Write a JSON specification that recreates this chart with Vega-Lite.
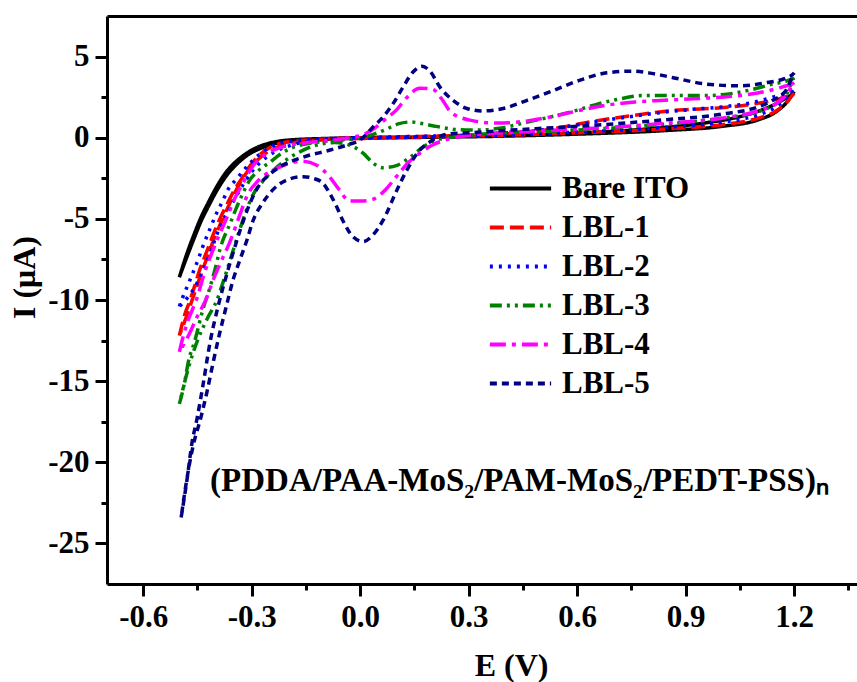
{
  "$schema": "https://vega.github.io/schema/vega-lite/v6.json",
  "autosize": {"type": "none"},
  "padding": {"left": 107, "top": 16, "right": 0, "bottom": 98},
  "width": 750,
  "height": 568,
  "background": "white",
  "config": {
    "view": {"stroke": null},
    "font": "Liberation Serif",
    "axis": {"labelFont": "Liberation Serif", "labelFontWeight": "bold", "labelFontSize": 31, "labelColor": "black", "titleFont": "Liberation Serif", "titleFontWeight": "bold", "titleFontSize": 32, "titleColor": "black", "domainColor": "black", "domainWidth": 3, "tickColor": "black", "tickWidth": 3, "grid": false},
    "legend": {"orient": "none", "legendX": 394, "legendY": 153, "title": null, "padding": 0, "symbolType": "M-1.75,0H1.75", "symbolSize": 1225, "symbolStrokeWidth": 4, "labelFont": "Liberation Serif", "labelFontWeight": "bold", "labelFontSize": 31, "labelColor": "black", "labelOffset": 22, "rowPadding": 4}
  },
  "datasets": {
    "cv": [
      {"s":"Bare ITO","i":0,"x":-0.5,"y":-8.6},{"s":"Bare ITO","i":1,"x":-0.48,"y":-7.2},{"s":"Bare ITO","i":2,"x":-0.46,"y":-6.0},{"s":"Bare ITO","i":3,"x":-0.44,"y":-4.9},{"s":"Bare ITO","i":4,"x":-0.42,"y":-4.0},{"s":"Bare ITO","i":5,"x":-0.4,"y":-3.15},{"s":"Bare ITO","i":6,"x":-0.37,"y":-2.1},{"s":"Bare ITO","i":7,"x":-0.34,"y":-1.4},{"s":"Bare ITO","i":8,"x":-0.31,"y":-0.9},{"s":"Bare ITO","i":9,"x":-0.28,"y":-0.55},{"s":"Bare ITO","i":10,"x":-0.25,"y":-0.33},{"s":"Bare ITO","i":11,"x":-0.2,"y":-0.15},{"s":"Bare ITO","i":12,"x":-0.1,"y":-0.05},{"s":"Bare ITO","i":13,"x":0,"y":0},{"s":"Bare ITO","i":14,"x":0.2,"y":0.04},{"s":"Bare ITO","i":15,"x":0.4,"y":0.1},{"s":"Bare ITO","i":16,"x":0.6,"y":0.28},{"s":"Bare ITO","i":17,"x":0.8,"y":0.55},{"s":"Bare ITO","i":18,"x":0.95,"y":0.9},{"s":"Bare ITO","i":19,"x":1.05,"y":1.3},{"s":"Bare ITO","i":20,"x":1.12,"y":1.8},{"s":"Bare ITO","i":21,"x":1.17,"y":2.35},{"s":"Bare ITO","i":22,"x":1.2,"y":2.85},{"s":"Bare ITO","i":23,"x":1.18,"y":2.2},{"s":"Bare ITO","i":24,"x":1.15,"y":1.6},{"s":"Bare ITO","i":25,"x":1.1,"y":1.1},{"s":"Bare ITO","i":26,"x":1.0,"y":0.7},{"s":"Bare ITO","i":27,"x":0.85,"y":0.45},{"s":"Bare ITO","i":28,"x":0.6,"y":0.22},{"s":"Bare ITO","i":29,"x":0.4,"y":0.1},{"s":"Bare ITO","i":30,"x":0.2,"y":0.03},{"s":"Bare ITO","i":31,"x":0,"y":-0.03},{"s":"Bare ITO","i":32,"x":-0.1,"y":-0.1},{"s":"Bare ITO","i":33,"x":-0.2,"y":-0.25},{"s":"Bare ITO","i":34,"x":-0.25,"y":-0.45},{"s":"Bare ITO","i":35,"x":-0.28,"y":-0.7},{"s":"Bare ITO","i":36,"x":-0.31,"y":-1.05},{"s":"Bare ITO","i":37,"x":-0.34,"y":-1.6},{"s":"Bare ITO","i":38,"x":-0.37,"y":-2.35},{"s":"Bare ITO","i":39,"x":-0.4,"y":-3.4},{"s":"Bare ITO","i":40,"x":-0.42,"y":-4.25},{"s":"Bare ITO","i":41,"x":-0.44,"y":-5.15},{"s":"Bare ITO","i":42,"x":-0.46,"y":-6.25},{"s":"Bare ITO","i":43,"x":-0.48,"y":-7.4},{"s":"Bare ITO","i":44,"x":-0.5,"y":-8.6},

      {"s":"LBL-1","i":0,"x":-0.5,"y":-12.2},{"s":"LBL-1","i":1,"x":-0.485,"y":-10.9},{"s":"LBL-1","i":2,"x":-0.47,"y":-10.0},{"s":"LBL-1","i":3,"x":-0.46,"y":-9.3},{"s":"LBL-1","i":4,"x":-0.443,"y":-8.1},{"s":"LBL-1","i":5,"x":-0.424,"y":-7.0},{"s":"LBL-1","i":6,"x":-0.407,"y":-6.0},{"s":"LBL-1","i":7,"x":-0.388,"y":-5.0},{"s":"LBL-1","i":8,"x":-0.368,"y":-4.1},{"s":"LBL-1","i":9,"x":-0.35,"y":-3.3},{"s":"LBL-1","i":10,"x":-0.33,"y":-2.6},{"s":"LBL-1","i":11,"x":-0.31,"y":-1.9},{"s":"LBL-1","i":12,"x":-0.28,"y":-1.1},{"s":"LBL-1","i":13,"x":-0.25,"y":-0.6},{"s":"LBL-1","i":14,"x":-0.2,"y":-0.25},{"s":"LBL-1","i":15,"x":-0.1,"y":-0.08},{"s":"LBL-1","i":16,"x":0,"y":0},{"s":"LBL-1","i":17,"x":0.1,"y":0.05},{"s":"LBL-1","i":18,"x":0.2,"y":0.1},{"s":"LBL-1","i":19,"x":0.3,"y":0.15},{"s":"LBL-1","i":20,"x":0.4,"y":0.25},{"s":"LBL-1","i":21,"x":0.47,"y":0.35},{"s":"LBL-1","i":22,"x":0.56,"y":0.65},{"s":"LBL-1","i":23,"x":0.63,"y":0.95},{"s":"LBL-1","i":24,"x":0.7,"y":1.2},{"s":"LBL-1","i":25,"x":0.78,"y":1.45},{"s":"LBL-1","i":26,"x":0.85,"y":1.65},{"s":"LBL-1","i":27,"x":0.92,"y":1.75},{"s":"LBL-1","i":28,"x":1.0,"y":1.85},{"s":"LBL-1","i":29,"x":1.08,"y":2.05},{"s":"LBL-1","i":30,"x":1.14,"y":2.3},{"s":"LBL-1","i":31,"x":1.18,"y":2.55},{"s":"LBL-1","i":32,"x":1.2,"y":2.75},{"s":"LBL-1","i":33,"x":1.18,"y":2.2},{"s":"LBL-1","i":34,"x":1.15,"y":1.65},{"s":"LBL-1","i":35,"x":1.1,"y":1.2},{"s":"LBL-1","i":36,"x":1.0,"y":0.8},{"s":"LBL-1","i":37,"x":0.85,"y":0.55},{"s":"LBL-1","i":38,"x":0.6,"y":0.3},{"s":"LBL-1","i":39,"x":0.4,"y":0.15},{"s":"LBL-1","i":40,"x":0.2,"y":0.05},{"s":"LBL-1","i":41,"x":0,"y":-0.05},{"s":"LBL-1","i":42,"x":-0.1,"y":-0.12},{"s":"LBL-1","i":43,"x":-0.18,"y":-0.3},{"s":"LBL-1","i":44,"x":-0.23,"y":-0.6},{"s":"LBL-1","i":45,"x":-0.27,"y":-1.1},{"s":"LBL-1","i":46,"x":-0.3,"y":-1.75},{"s":"LBL-1","i":47,"x":-0.33,"y":-2.7},{"s":"LBL-1","i":48,"x":-0.36,"y":-4.0},{"s":"LBL-1","i":49,"x":-0.38,"y":-5.0},{"s":"LBL-1","i":50,"x":-0.4,"y":-6.0},{"s":"LBL-1","i":51,"x":-0.42,"y":-7.2},{"s":"LBL-1","i":52,"x":-0.44,"y":-8.4},{"s":"LBL-1","i":53,"x":-0.46,"y":-9.7},{"s":"LBL-1","i":54,"x":-0.48,"y":-11.0},{"s":"LBL-1","i":55,"x":-0.5,"y":-12.2},

      {"s":"LBL-2","i":0,"x":-0.5,"y":-10.4},{"s":"LBL-2","i":1,"x":-0.49,"y":-9.8},{"s":"LBL-2","i":2,"x":-0.475,"y":-9.0},{"s":"LBL-2","i":3,"x":-0.462,"y":-8.3},{"s":"LBL-2","i":4,"x":-0.448,"y":-7.5},{"s":"LBL-2","i":5,"x":-0.435,"y":-6.7},{"s":"LBL-2","i":6,"x":-0.415,"y":-5.6},{"s":"LBL-2","i":7,"x":-0.396,"y":-4.6},{"s":"LBL-2","i":8,"x":-0.38,"y":-3.9},{"s":"LBL-2","i":9,"x":-0.368,"y":-3.3},{"s":"LBL-2","i":10,"x":-0.34,"y":-2.5},{"s":"LBL-2","i":11,"x":-0.31,"y":-1.7},{"s":"LBL-2","i":12,"x":-0.28,"y":-1.05},{"s":"LBL-2","i":13,"x":-0.25,"y":-0.6},{"s":"LBL-2","i":14,"x":-0.2,"y":-0.25},{"s":"LBL-2","i":15,"x":-0.1,"y":-0.08},{"s":"LBL-2","i":16,"x":0,"y":0},{"s":"LBL-2","i":17,"x":0.1,"y":0.05},{"s":"LBL-2","i":18,"x":0.2,"y":0.1},{"s":"LBL-2","i":19,"x":0.3,"y":0.15},{"s":"LBL-2","i":20,"x":0.4,"y":0.3},{"s":"LBL-2","i":21,"x":0.47,"y":0.4},{"s":"LBL-2","i":22,"x":0.56,"y":0.65},{"s":"LBL-2","i":23,"x":0.63,"y":0.9},{"s":"LBL-2","i":24,"x":0.7,"y":1.15},{"s":"LBL-2","i":25,"x":0.78,"y":1.4},{"s":"LBL-2","i":26,"x":0.85,"y":1.6},{"s":"LBL-2","i":27,"x":0.92,"y":1.75},{"s":"LBL-2","i":28,"x":1.0,"y":1.9},{"s":"LBL-2","i":29,"x":1.08,"y":2.15},{"s":"LBL-2","i":30,"x":1.14,"y":2.5},{"s":"LBL-2","i":31,"x":1.18,"y":2.8},{"s":"LBL-2","i":32,"x":1.2,"y":3.1},{"s":"LBL-2","i":33,"x":1.18,"y":2.5},{"s":"LBL-2","i":34,"x":1.15,"y":1.9},{"s":"LBL-2","i":35,"x":1.1,"y":1.4},{"s":"LBL-2","i":36,"x":1.0,"y":0.95},{"s":"LBL-2","i":37,"x":0.85,"y":0.65},{"s":"LBL-2","i":38,"x":0.6,"y":0.35},{"s":"LBL-2","i":39,"x":0.4,"y":0.15},{"s":"LBL-2","i":40,"x":0.2,"y":0.05},{"s":"LBL-2","i":41,"x":0,"y":-0.05},{"s":"LBL-2","i":42,"x":-0.1,"y":-0.15},{"s":"LBL-2","i":43,"x":-0.18,"y":-0.4},{"s":"LBL-2","i":44,"x":-0.23,"y":-0.8},{"s":"LBL-2","i":45,"x":-0.27,"y":-1.4},{"s":"LBL-2","i":46,"x":-0.3,"y":-2.1},{"s":"LBL-2","i":47,"x":-0.332,"y":-3.2},{"s":"LBL-2","i":48,"x":-0.36,"y":-4.3},{"s":"LBL-2","i":49,"x":-0.388,"y":-5.5},{"s":"LBL-2","i":50,"x":-0.415,"y":-7.1},{"s":"LBL-2","i":51,"x":-0.435,"y":-8.2},{"s":"LBL-2","i":52,"x":-0.457,"y":-9.2},{"s":"LBL-2","i":53,"x":-0.479,"y":-9.9},{"s":"LBL-2","i":54,"x":-0.5,"y":-10.4},

      {"s":"LBL-3","i":0,"x":-0.5,"y":-16.4},{"s":"LBL-3","i":1,"x":-0.495,"y":-16.0},{"s":"LBL-3","i":2,"x":-0.484,"y":-14.9},{"s":"LBL-3","i":3,"x":-0.476,"y":-13.9},{"s":"LBL-3","i":4,"x":-0.457,"y":-12.5},{"s":"LBL-3","i":5,"x":-0.435,"y":-10.6},{"s":"LBL-3","i":6,"x":-0.415,"y":-9.2},{"s":"LBL-3","i":7,"x":-0.4,"y":-8.0},{"s":"LBL-3","i":8,"x":-0.388,"y":-6.9},{"s":"LBL-3","i":9,"x":-0.36,"y":-5.3},{"s":"LBL-3","i":10,"x":-0.332,"y":-3.8},{"s":"LBL-3","i":11,"x":-0.305,"y":-2.6},{"s":"LBL-3","i":12,"x":-0.28,"y":-2.0},{"s":"LBL-3","i":13,"x":-0.249,"y":-1.5},{"s":"LBL-3","i":14,"x":-0.22,"y":-1.0},{"s":"LBL-3","i":15,"x":-0.186,"y":-0.6},{"s":"LBL-3","i":16,"x":-0.14,"y":-0.35},{"s":"LBL-3","i":17,"x":-0.08,"y":-0.2},{"s":"LBL-3","i":18,"x":-0.03,"y":-0.1},{"s":"LBL-3","i":19,"x":0,"y":0},{"s":"LBL-3","i":20,"x":0.035,"y":0.2},{"s":"LBL-3","i":21,"x":0.07,"y":0.5},{"s":"LBL-3","i":22,"x":0.105,"y":0.85},{"s":"LBL-3","i":23,"x":0.14,"y":0.97},{"s":"LBL-3","i":24,"x":0.175,"y":0.85},{"s":"LBL-3","i":25,"x":0.21,"y":0.7},{"s":"LBL-3","i":26,"x":0.27,"y":0.5},{"s":"LBL-3","i":27,"x":0.33,"y":0.47},{"s":"LBL-3","i":28,"x":0.39,"y":0.6},{"s":"LBL-3","i":29,"x":0.46,"y":0.95},{"s":"LBL-3","i":30,"x":0.53,"y":1.3},{"s":"LBL-3","i":31,"x":0.6,"y":1.7},{"s":"LBL-3","i":32,"x":0.66,"y":2.1},{"s":"LBL-3","i":33,"x":0.72,"y":2.4},{"s":"LBL-3","i":34,"x":0.78,"y":2.6},{"s":"LBL-3","i":35,"x":0.85,"y":2.6},{"s":"LBL-3","i":36,"x":0.96,"y":2.6},{"s":"LBL-3","i":37,"x":1.02,"y":2.7},{"s":"LBL-3","i":38,"x":1.08,"y":2.95},{"s":"LBL-3","i":39,"x":1.14,"y":3.3},{"s":"LBL-3","i":40,"x":1.18,"y":3.5},{"s":"LBL-3","i":41,"x":1.2,"y":3.7},{"s":"LBL-3","i":42,"x":1.18,"y":2.7},{"s":"LBL-3","i":43,"x":1.15,"y":2.1},{"s":"LBL-3","i":44,"x":1.1,"y":1.6},{"s":"LBL-3","i":45,"x":1.0,"y":1.2},{"s":"LBL-3","i":46,"x":0.85,"y":0.85},{"s":"LBL-3","i":47,"x":0.7,"y":0.6},{"s":"LBL-3","i":48,"x":0.55,"y":0.42},{"s":"LBL-3","i":49,"x":0.4,"y":0.3},{"s":"LBL-3","i":50,"x":0.3,"y":0.15},{"s":"LBL-3","i":51,"x":0.25,"y":0.02},{"s":"LBL-3","i":52,"x":0.212,"y":-0.14},{"s":"LBL-3","i":53,"x":0.174,"y":-0.57},{"s":"LBL-3","i":54,"x":0.138,"y":-1.2},{"s":"LBL-3","i":55,"x":0.102,"y":-1.7},{"s":"LBL-3","i":56,"x":0.063,"y":-1.85},{"s":"LBL-3","i":57,"x":0.035,"y":-1.55},{"s":"LBL-3","i":58,"x":0.008,"y":-0.95},{"s":"LBL-3","i":59,"x":-0.03,"y":-0.45},{"s":"LBL-3","i":60,"x":-0.07,"y":-0.3},{"s":"LBL-3","i":61,"x":-0.12,"y":-0.45},{"s":"LBL-3","i":62,"x":-0.16,"y":-0.8},{"s":"LBL-3","i":63,"x":-0.2,"y":-1.3},{"s":"LBL-3","i":64,"x":-0.24,"y":-2.0},{"s":"LBL-3","i":65,"x":-0.27,"y":-2.7},{"s":"LBL-3","i":66,"x":-0.296,"y":-3.5},{"s":"LBL-3","i":67,"x":-0.315,"y":-4.5},{"s":"LBL-3","i":68,"x":-0.332,"y":-5.6},{"s":"LBL-3","i":69,"x":-0.352,"y":-7.0},{"s":"LBL-3","i":70,"x":-0.379,"y":-8.9},{"s":"LBL-3","i":71,"x":-0.396,"y":-10.0},{"s":"LBL-3","i":72,"x":-0.424,"y":-11.2},{"s":"LBL-3","i":73,"x":-0.45,"y":-12.5},{"s":"LBL-3","i":74,"x":-0.475,"y":-14.2},{"s":"LBL-3","i":75,"x":-0.5,"y":-16.4},

      {"s":"LBL-4","i":0,"x":-0.5,"y":-13.2},{"s":"LBL-4","i":1,"x":-0.49,"y":-12.3},{"s":"LBL-4","i":2,"x":-0.475,"y":-11.2},{"s":"LBL-4","i":3,"x":-0.453,"y":-10.0},{"s":"LBL-4","i":4,"x":-0.43,"y":-8.3},{"s":"LBL-4","i":5,"x":-0.41,"y":-7.1},{"s":"LBL-4","i":6,"x":-0.39,"y":-6.0},{"s":"LBL-4","i":7,"x":-0.37,"y":-5.0},{"s":"LBL-4","i":8,"x":-0.35,"y":-3.9},{"s":"LBL-4","i":9,"x":-0.322,"y":-2.7},{"s":"LBL-4","i":10,"x":-0.295,"y":-1.7},{"s":"LBL-4","i":11,"x":-0.26,"y":-1.0},{"s":"LBL-4","i":12,"x":-0.22,"y":-0.6},{"s":"LBL-4","i":13,"x":-0.16,"y":-0.35},{"s":"LBL-4","i":14,"x":-0.1,"y":-0.2},{"s":"LBL-4","i":15,"x":-0.03,"y":0},{"s":"LBL-4","i":16,"x":0.01,"y":0.2},{"s":"LBL-4","i":17,"x":0.04,"y":0.6},{"s":"LBL-4","i":18,"x":0.07,"y":1.15},{"s":"LBL-4","i":19,"x":0.1,"y":1.7},{"s":"LBL-4","i":20,"x":0.13,"y":2.5},{"s":"LBL-4","i":21,"x":0.165,"y":3.05},{"s":"LBL-4","i":22,"x":0.2,"y":3.0},{"s":"LBL-4","i":23,"x":0.225,"y":2.4},{"s":"LBL-4","i":24,"x":0.25,"y":1.6},{"s":"LBL-4","i":25,"x":0.3,"y":1.1},{"s":"LBL-4","i":26,"x":0.375,"y":0.9},{"s":"LBL-4","i":27,"x":0.45,"y":1.0},{"s":"LBL-4","i":28,"x":0.53,"y":1.3},{"s":"LBL-4","i":29,"x":0.6,"y":1.65},{"s":"LBL-4","i":30,"x":0.68,"y":2.0},{"s":"LBL-4","i":31,"x":0.76,"y":2.2},{"s":"LBL-4","i":32,"x":0.83,"y":2.3},{"s":"LBL-4","i":33,"x":0.92,"y":2.4},{"s":"LBL-4","i":34,"x":1.0,"y":2.5},{"s":"LBL-4","i":35,"x":1.05,"y":2.6},{"s":"LBL-4","i":36,"x":1.13,"y":2.9},{"s":"LBL-4","i":37,"x":1.17,"y":3.15},{"s":"LBL-4","i":38,"x":1.2,"y":3.4},{"s":"LBL-4","i":39,"x":1.18,"y":2.7},{"s":"LBL-4","i":40,"x":1.15,"y":2.1},{"s":"LBL-4","i":41,"x":1.1,"y":1.65},{"s":"LBL-4","i":42,"x":1.0,"y":1.2},{"s":"LBL-4","i":43,"x":0.85,"y":0.9},{"s":"LBL-4","i":44,"x":0.7,"y":0.65},{"s":"LBL-4","i":45,"x":0.55,"y":0.48},{"s":"LBL-4","i":46,"x":0.4,"y":0.32},{"s":"LBL-4","i":47,"x":0.3,"y":0.15},{"s":"LBL-4","i":48,"x":0.25,"y":-0.05},{"s":"LBL-4","i":49,"x":0.2,"y":-0.45},{"s":"LBL-4","i":50,"x":0.165,"y":-0.95},{"s":"LBL-4","i":51,"x":0.13,"y":-1.6},{"s":"LBL-4","i":52,"x":0.1,"y":-2.4},{"s":"LBL-4","i":53,"x":0.07,"y":-3.2},{"s":"LBL-4","i":54,"x":0.04,"y":-3.75},{"s":"LBL-4","i":55,"x":0.01,"y":-3.9},{"s":"LBL-4","i":56,"x":-0.03,"y":-3.9},{"s":"LBL-4","i":57,"x":-0.058,"y":-3.2},{"s":"LBL-4","i":58,"x":-0.085,"y":-2.4},{"s":"LBL-4","i":59,"x":-0.12,"y":-1.7},{"s":"LBL-4","i":60,"x":-0.16,"y":-1.45},{"s":"LBL-4","i":61,"x":-0.2,"y":-1.6},{"s":"LBL-4","i":62,"x":-0.24,"y":-2.0},{"s":"LBL-4","i":63,"x":-0.28,"y":-2.6},{"s":"LBL-4","i":64,"x":-0.313,"y":-3.6},{"s":"LBL-4","i":65,"x":-0.335,"y":-4.9},{"s":"LBL-4","i":66,"x":-0.36,"y":-6.4},{"s":"LBL-4","i":67,"x":-0.388,"y":-7.8},{"s":"LBL-4","i":68,"x":-0.407,"y":-8.8},{"s":"LBL-4","i":69,"x":-0.427,"y":-10.0},{"s":"LBL-4","i":70,"x":-0.45,"y":-11.0},{"s":"LBL-4","i":71,"x":-0.475,"y":-12.2},{"s":"LBL-4","i":72,"x":-0.5,"y":-13.2},

      {"s":"LBL-5","i":0,"x":-0.495,"y":-23.4},{"s":"LBL-5","i":1,"x":-0.479,"y":-21.1},{"s":"LBL-5","i":2,"x":-0.465,"y":-18.8},{"s":"LBL-5","i":3,"x":-0.451,"y":-17.3},{"s":"LBL-5","i":4,"x":-0.435,"y":-15.3},{"s":"LBL-5","i":5,"x":-0.415,"y":-12.6},{"s":"LBL-5","i":6,"x":-0.393,"y":-10.4},{"s":"LBL-5","i":7,"x":-0.37,"y":-8.5},{"s":"LBL-5","i":8,"x":-0.346,"y":-6.7},{"s":"LBL-5","i":9,"x":-0.332,"y":-5.7},{"s":"LBL-5","i":10,"x":-0.313,"y":-4.5},{"s":"LBL-5","i":11,"x":-0.296,"y":-3.6},{"s":"LBL-5","i":12,"x":-0.275,"y":-2.8},{"s":"LBL-5","i":13,"x":-0.258,"y":-2.4},{"s":"LBL-5","i":14,"x":-0.222,"y":-1.8},{"s":"LBL-5","i":15,"x":-0.158,"y":-1.2},{"s":"LBL-5","i":16,"x":-0.083,"y":-0.76},{"s":"LBL-5","i":17,"x":-0.03,"y":-0.4},{"s":"LBL-5","i":18,"x":0,"y":-0.14},{"s":"LBL-5","i":19,"x":0.035,"y":0.65},{"s":"LBL-5","i":20,"x":0.063,"y":1.27},{"s":"LBL-5","i":21,"x":0.091,"y":2.1},{"s":"LBL-5","i":22,"x":0.118,"y":3.1},{"s":"LBL-5","i":23,"x":0.146,"y":4.05},{"s":"LBL-5","i":24,"x":0.171,"y":4.4},{"s":"LBL-5","i":25,"x":0.193,"y":4.1},{"s":"LBL-5","i":26,"x":0.221,"y":3.1},{"s":"LBL-5","i":27,"x":0.257,"y":2.3},{"s":"LBL-5","i":28,"x":0.295,"y":1.8},{"s":"LBL-5","i":29,"x":0.34,"y":1.65},{"s":"LBL-5","i":30,"x":0.395,"y":1.8},{"s":"LBL-5","i":31,"x":0.461,"y":2.3},{"s":"LBL-5","i":32,"x":0.533,"y":2.9},{"s":"LBL-5","i":33,"x":0.608,"y":3.55},{"s":"LBL-5","i":34,"x":0.682,"y":4.0},{"s":"LBL-5","i":35,"x":0.754,"y":4.1},{"s":"LBL-5","i":36,"x":0.81,"y":3.95},{"s":"LBL-5","i":37,"x":0.865,"y":3.7},{"s":"LBL-5","i":38,"x":0.959,"y":3.3},{"s":"LBL-5","i":39,"x":1.05,"y":3.2},{"s":"LBL-5","i":40,"x":1.125,"y":3.4},{"s":"LBL-5","i":41,"x":1.18,"y":3.7},{"s":"LBL-5","i":42,"x":1.2,"y":4.0},{"s":"LBL-5","i":43,"x":1.18,"y":3.0},{"s":"LBL-5","i":44,"x":1.14,"y":2.3},{"s":"LBL-5","i":45,"x":1.1,"y":1.9},{"s":"LBL-5","i":46,"x":1.0,"y":1.45},{"s":"LBL-5","i":47,"x":0.84,"y":1.1},{"s":"LBL-5","i":48,"x":0.7,"y":0.85},{"s":"LBL-5","i":49,"x":0.56,"y":0.65},{"s":"LBL-5","i":50,"x":0.4,"y":0.45},{"s":"LBL-5","i":51,"x":0.3,"y":0.3},{"s":"LBL-5","i":52,"x":0.25,"y":0.25},{"s":"LBL-5","i":53,"x":0.221,"y":0.1},{"s":"LBL-5","i":54,"x":0.19,"y":-0.3},{"s":"LBL-5","i":55,"x":0.165,"y":-0.76},{"s":"LBL-5","i":56,"x":0.129,"y":-2.0},{"s":"LBL-5","i":57,"x":0.102,"y":-3.2},{"s":"LBL-5","i":58,"x":0.063,"y":-5.1},{"s":"LBL-5","i":59,"x":0.035,"y":-6.0},{"s":"LBL-5","i":60,"x":0.008,"y":-6.4},{"s":"LBL-5","i":61,"x":-0.02,"y":-6.1},{"s":"LBL-5","i":62,"x":-0.048,"y":-5.1},{"s":"LBL-5","i":63,"x":-0.064,"y":-4.3},{"s":"LBL-5","i":64,"x":-0.085,"y":-3.4},{"s":"LBL-5","i":65,"x":-0.103,"y":-2.8},{"s":"LBL-5","i":66,"x":-0.13,"y":-2.5},{"s":"LBL-5","i":67,"x":-0.158,"y":-2.4},{"s":"LBL-5","i":68,"x":-0.202,"y":-2.6},{"s":"LBL-5","i":69,"x":-0.241,"y":-3.2},{"s":"LBL-5","i":70,"x":-0.269,"y":-4.0},{"s":"LBL-5","i":71,"x":-0.296,"y":-5.1},{"s":"LBL-5","i":72,"x":-0.313,"y":-6.3},{"s":"LBL-5","i":73,"x":-0.332,"y":-7.5},{"s":"LBL-5","i":74,"x":-0.352,"y":-8.8},{"s":"LBL-5","i":75,"x":-0.368,"y":-10.2},{"s":"LBL-5","i":76,"x":-0.388,"y":-12.0},{"s":"LBL-5","i":77,"x":-0.407,"y":-13.9},{"s":"LBL-5","i":78,"x":-0.424,"y":-15.7},{"s":"LBL-5","i":79,"x":-0.44,"y":-17.2},{"s":"LBL-5","i":80,"x":-0.462,"y":-19.0},{"s":"LBL-5","i":81,"x":-0.479,"y":-21.0},{"s":"LBL-5","i":82,"x":-0.495,"y":-23.4}
    ]
  },
  "resolve": {"axis": {"x": "independent", "y": "independent"}},
  "layer": [
    {
      "data": {"name": "cv"},
      "mark": {"type": "line", "strokeWidth": 3.5, "interpolate": "monotone"},
      "encoding": {
        "x": {"field": "x", "type": "quantitative", "scale": {"domain": [-0.7, 1.3736], "nice": false, "zero": false},
          "axis": {"orient": "bottom", "values": [-0.6, -0.3, 0, 0.3, 0.6, 0.9, 1.2], "format": ".1f", "labelExpr": "replace(datum.label, '\u2212', '-')", "tickSize": 12, "labelPadding": 6, "title": "E (V)", "titleX": 404, "titleY": 91, "titleBaseline": "alphabetic"}},
        "y": {"field": "y", "type": "quantitative", "scale": {"domain": [-27.5, 7.5], "nice": false, "zero": false},
          "axis": {"orient": "left", "values": [-25, -20, -15, -10, -5, 0, 5], "format": "d", "labelExpr": "replace(datum.label, '\u2212', '-')", "tickSize": 12, "labelPadding": 6, "title": "I (\u03bcA)", "titleX": -66, "titleY": 261, "titleAngle": -90, "titleBaseline": "bottom"}},
        "order": {"field": "i", "type": "quantitative"},
        "color": {"field": "s", "type": "nominal", "scale": {"domain": ["Bare ITO", "LBL-1", "LBL-2", "LBL-3", "LBL-4", "LBL-5"], "range": ["#000000", "#ff0000", "#0000ff", "#008000", "#ff00ff", "#000080"]}},
        "strokeDash": {"field": "s", "type": "nominal", "scale": {"domain": ["Bare ITO", "LBL-1", "LBL-2", "LBL-3", "LBL-4", "LBL-5"], "range": [[1, 0], [14, 6], [3, 6], [12, 5, 3, 5, 3, 5], [16, 6, 4, 6], [7, 5]]}}
      }
    },
    {
      "data": {"values": [{"t": "(PDDA/PAA-MoS\u2082/PAM-MoS\u2082/PEDT-PSS)\u2099"}]},
      "mark": {"type": "text", "align": "left", "baseline": "alphabetic", "font": "Liberation Serif", "fontWeight": "bold", "fontSize": 33, "color": "black"},
      "encoding": {
        "text": {"field": "t"},
        "x": {"datum": -0.415, "type": "quantitative", "axis": {"orient": "bottom", "values": [-0.45, -0.15, 0.15, 0.45, 0.75, 1.05, 1.35], "labels": false, "domain": false, "tickSize": 6, "title": null}},
        "y": {"datum": -21.8, "type": "quantitative", "axis": {"orient": "left", "values": [2.5, -2.5, -7.5, -12.5, -17.5, -22.5], "labels": false, "domain": false, "tickSize": 6, "title": null}}
      }
    },
    {
      "data": {"values": [{"t": ""}]},
      "mark": {"type": "text"},
      "encoding": {
        "text": {"field": "t"},
        "x": {"datum": 0, "type": "quantitative", "axis": {"orient": "top", "labels": false, "ticks": false, "title": null}}
      }
    }
  ]
}
